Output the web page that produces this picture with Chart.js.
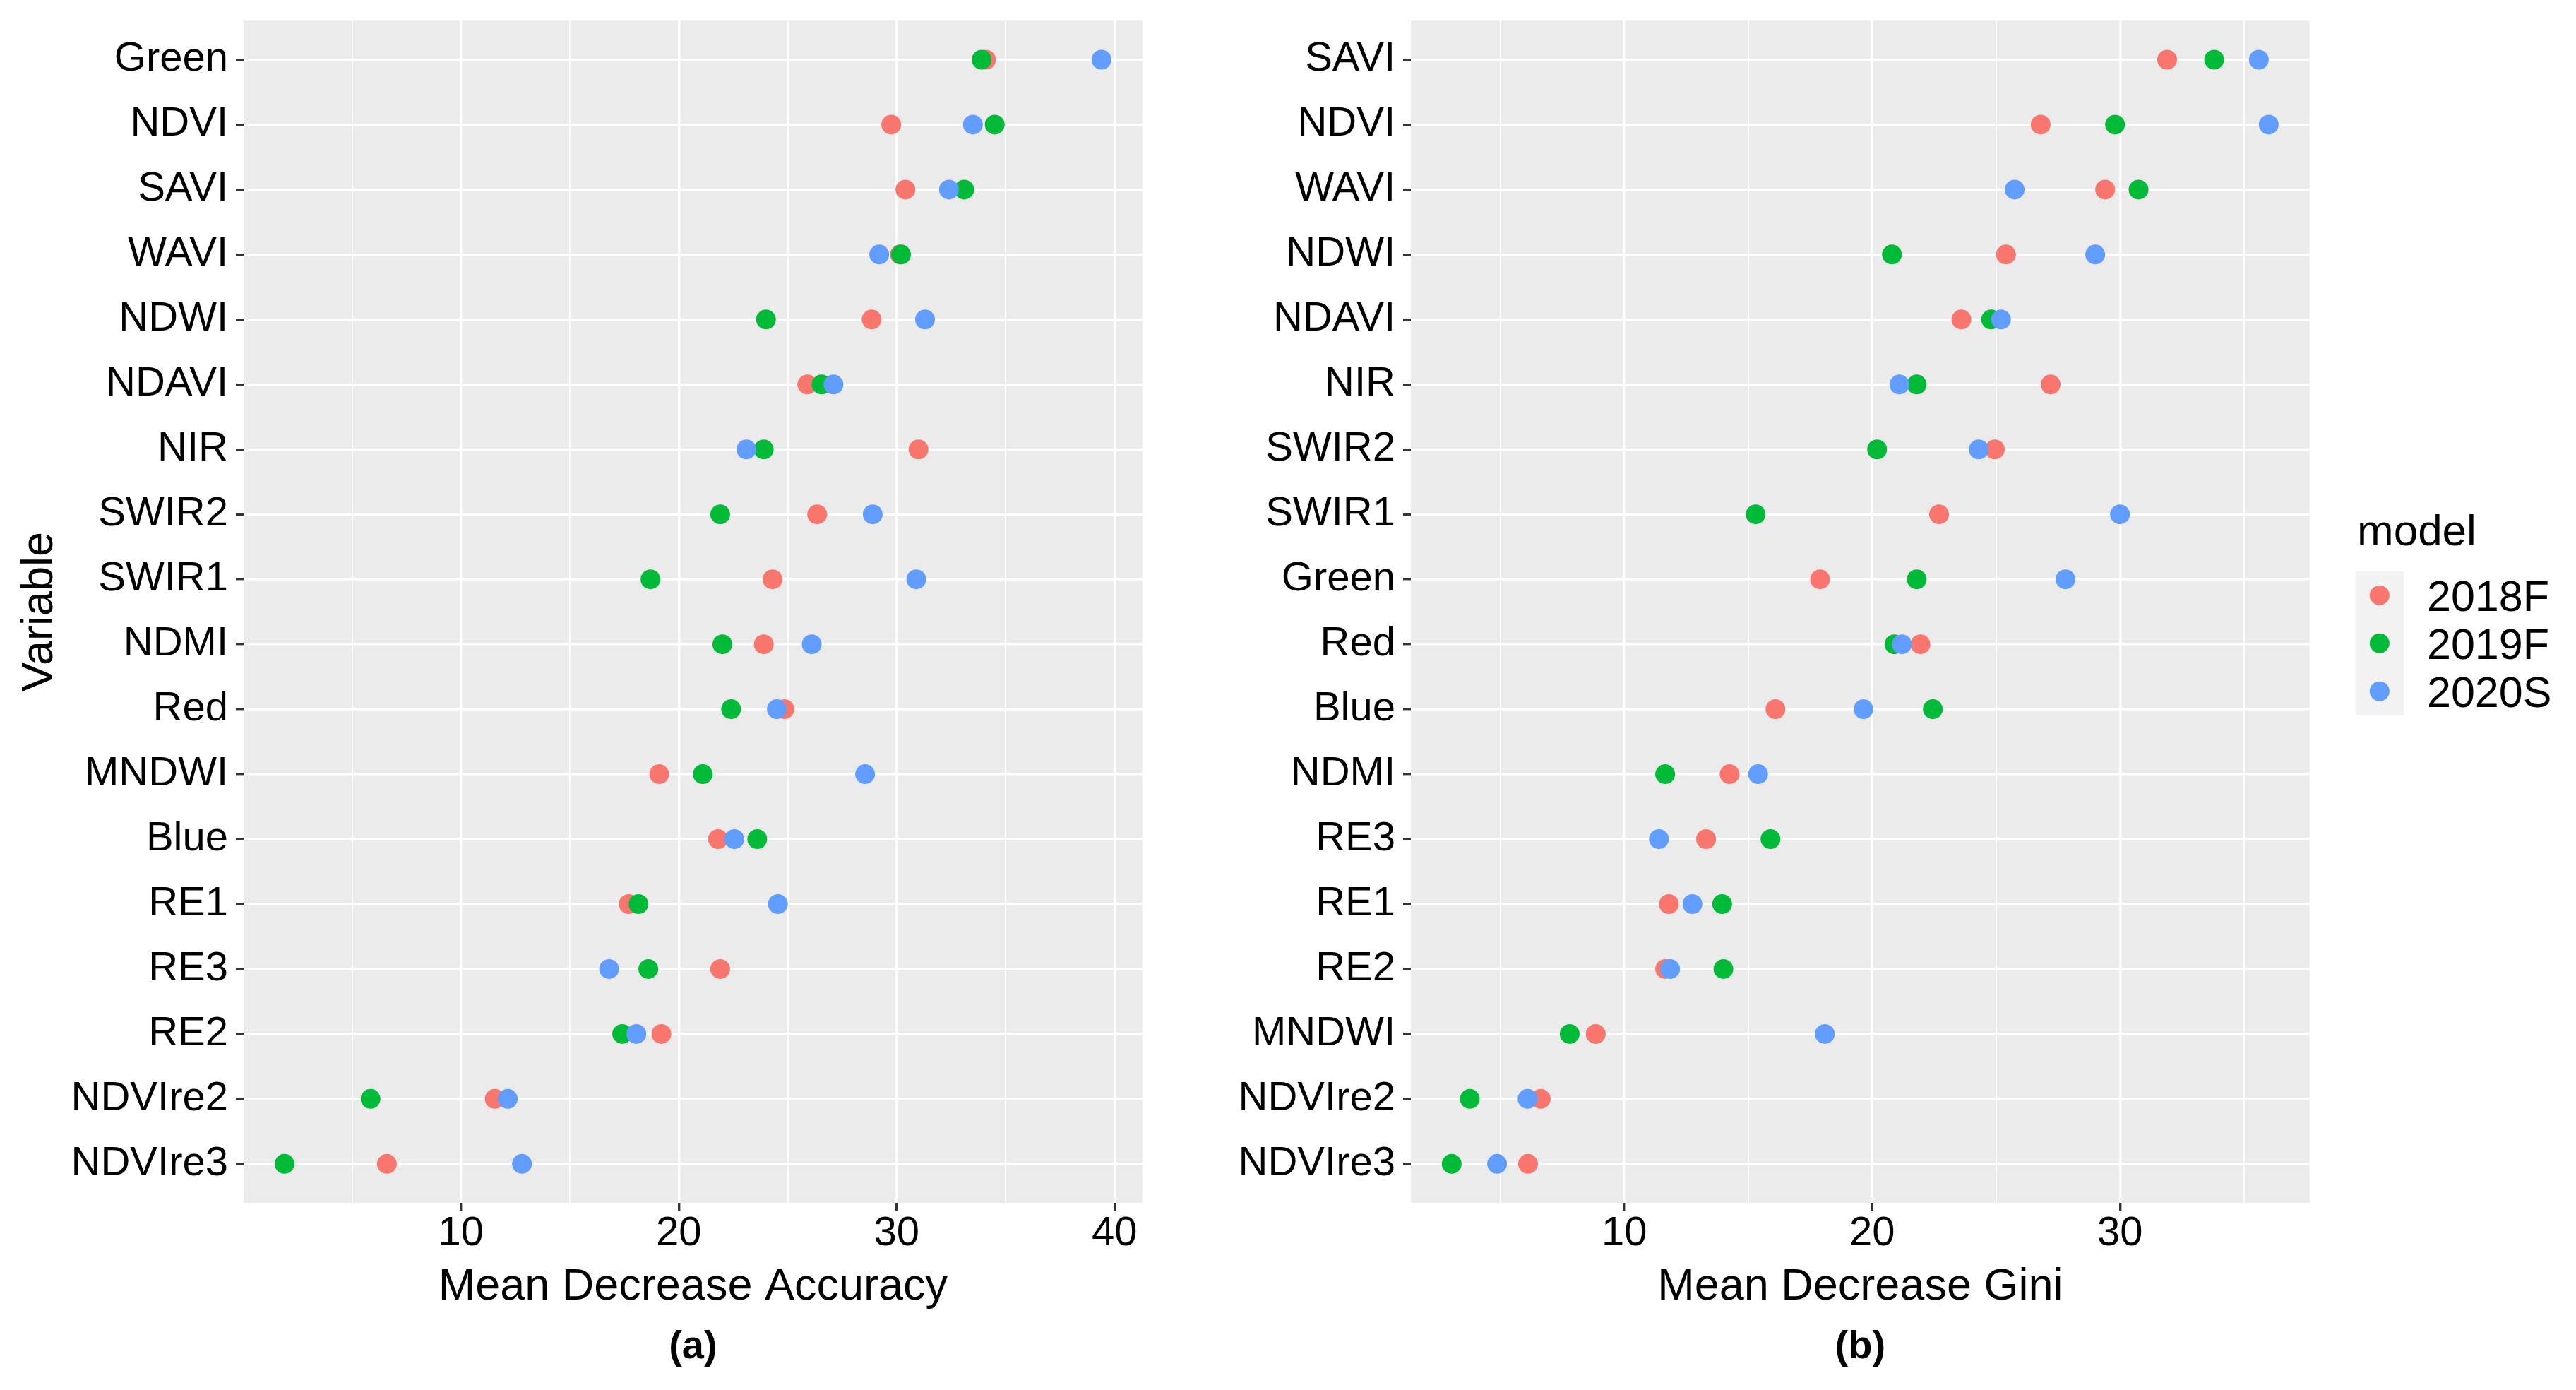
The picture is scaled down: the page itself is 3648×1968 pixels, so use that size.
<!DOCTYPE html>
<html>
<head>
<meta charset="utf-8">
<script src="https://cdn.jsdelivr.net/npm/chart.js@4.4.1/dist/chart.umd.min.js"></script>
<style>
html,body{margin:0;padding:0;background:#fff;width:3648px;height:1968px;overflow:hidden}
canvas{position:absolute;top:0}
#ca{left:0}
#cb{left:1700px}
</style>
</head>
<body>
<canvas id="ca" width="1700" height="1968"></canvas>
<canvas id="cb" width="1948" height="1968"></canvas>
<script>
// ---------------- data ----------------
const models = ['2018F', '2019F', '2020S'];
const modelColors = ['#F8766D', '#00BA38', '#619CFF'];

// (a) Mean Decrease Accuracy
const varsA = ['Green','NDVI','SAVI','WAVI','NDWI','NDAVI','NIR','SWIR2','SWIR1','NDMI','Red','MNDWI','Blue','RE1','RE3','RE2','NDVIre2','NDVIre3'];
const mdaA_2018F = [34.1, 29.75, 30.4, 30.15, 28.85, 25.9, 31.0, 26.35, 24.3, 23.9, 24.85, 19.1, 21.8, 17.7, 21.9, 19.2, 11.55, 6.6];
const mdaA_2019F = [33.9, 34.5, 33.1, 30.2, 24.0, 26.55, 23.9, 21.9, 18.7, 22.0, 22.4, 21.1, 23.6, 18.15, 18.6, 17.4, 5.85, 1.9];
const mdaA_2020S = [39.4, 33.5, 32.4, 29.2, 31.3, 27.1, 23.1, 28.9, 30.9, 26.1, 24.5, 28.55, 22.55, 24.55, 16.8, 18.05, 12.15, 12.8];
const xGridA = [5, 10, 15, 20, 25, 30, 35, 40];
const xLabelsA = [10, 20, 30, 40];

// (b) Mean Decrease Gini
const varsB = ['SAVI','NDVI','WAVI','NDWI','NDAVI','NIR','SWIR2','SWIR1','Green','Red','Blue','NDMI','RE3','RE1','RE2','MNDWI','NDVIre2','NDVIre3'];
const mdgB_2018F = [31.9, 26.8, 29.4, 25.4, 23.6, 27.2, 24.95, 22.7, 17.9, 21.95, 16.1, 14.25, 13.3, 11.8, 11.65, 8.85, 6.63, 6.12];
const mdgB_2019F = [33.8, 29.8, 30.75, 20.8, 24.8, 21.8, 20.2, 15.3, 21.8, 20.9, 22.45, 11.65, 15.9, 13.95, 14.0, 7.8, 3.77, 3.04];
const mdgB_2020S = [35.6, 36.0, 25.75, 29.0, 25.2, 21.1, 24.3, 30.0, 27.8, 21.2, 19.65, 15.4, 11.4, 12.75, 11.85, 18.09, 6.10, 4.87];
const xGridB = [5, 10, 15, 20, 25, 30, 35];
const xLabelsB = [10, 20, 30];

// ---------------- styling ----------------
const FONT = "'Liberation Sans', Arial, Helvetica, sans-serif";
const PANEL_BG = '#EBEBEB';
const TICK_COL = '#333333';

const panelBg = {
  id: 'panelBg',
  beforeDraw(chart) {
    const a = chart.chartArea, ctx = chart.ctx;
    ctx.save();
    ctx.fillStyle = PANEL_BG;
    ctx.fillRect(a.left, a.top, a.right - a.left, a.bottom - a.top);
    ctx.restore();
  }
};

const panelTag = {
  id: 'panelTag',
  afterDraw(chart, args, opts) {
    if (!opts || !opts.text) return;
    const a = chart.chartArea, ctx = chart.ctx;
    ctx.save();
    ctx.fillStyle = '#000';
    ctx.font = 'bold 56px ' + FONT;
    ctx.textAlign = 'center';
    ctx.textBaseline = 'alphabetic';
    ctx.fillText(opts.text, (a.left + a.right) / 2, opts.y);
    ctx.restore();
  }
};

const keyLegend = {
  id: 'keyLegend',
  afterDraw(chart, args, opts) {
    if (!opts || !opts.show) return;
    const ctx = chart.ctx;
    ctx.save();
    ctx.fillStyle = '#000';
    ctx.font = '62px ' + FONT;
    ctx.textAlign = 'left';
    ctx.textBaseline = 'alphabetic';
    ctx.fillText(opts.title, opts.titleX, opts.titleY);
    const n = chart.data.datasets.length;
    ctx.fillStyle = '#F2F2F2';
    ctx.fillRect(opts.keyX, opts.keyY, opts.keyW, opts.keyH * n);
    chart.data.datasets.forEach((ds, i) => {
      const cy = opts.keyY + opts.keyH * (i + 0.5);
      ctx.fillStyle = ds.backgroundColor;
      ctx.beginPath();
      ctx.arc(opts.keyX + opts.keyW / 2, cy, 14, 0, Math.PI * 2);
      ctx.fill();
      ctx.fillStyle = '#000';
      ctx.font = '61px ' + FONT;
      ctx.fillText(ds.label, opts.labelX, cy + 22.5);
    });
    ctx.restore();
  }
};

function makeChart(id, cats, series, xGrid, xLabels, cfg) {
  let lo = Infinity, hi = -Infinity;
  series.forEach(s => s.forEach(v => { lo = Math.min(lo, v); hi = Math.max(hi, v); }));
  const pad = (hi - lo) * 0.05;
  const datasets = models.map((m, i) => ({
    label: m,
    data: series[i].map((v, j) => ({x: v, y: j})),
    backgroundColor: modelColors[i],
    borderWidth: 0,
    pointRadius: 14,
    pointHoverRadius: 14,
    order: models.length - i
  }));
  return new Chart(document.getElementById(id), {
    type: 'scatter',
    data: {datasets},
    plugins: [panelBg, panelTag, keyLegend],
    options: {
      responsive: false,
      animation: false,
      devicePixelRatio: 1,
      events: [],
      layout: {padding: cfg.padding},
      plugins: {
        legend: {display: false},
        tooltip: {enabled: false},
        panelTag: {text: cfg.tag, y: 1923},
        keyLegend: cfg.legend || {show: false}
      },
      scales: {
        x: {
          type: 'linear',
          min: lo - pad,
          max: hi + pad,
          afterBuildTicks: s => { s.ticks = xGrid.map(v => ({value: v})); },
          afterFit: s => { s.height = 265; s.paddingLeft = 0; s.paddingRight = 0; },
          ticks: {
            autoSkip: false,
            maxRotation: 0,
            padding: 4,
            color: '#000',
            font: {family: FONT, size: 58, lineHeight: 1},
            callback: v => xLabels.includes(v) ? String(v) : ''
          },
          grid: {
            color: '#FFFFFF',
            lineWidth: c => (c.tick && xLabels.includes(c.tick.value)) ? 3.4 : 1.7,
            tickColor: c => (c.tick && xLabels.includes(c.tick.value)) ? TICK_COL : 'rgba(0,0,0,0)',
            tickLength: 11,
            tickWidth: 3.4,
            drawTicks: true
          },
          border: {display: false},
          title: {
            display: true,
            text: cfg.xTitle,
            color: '#000',
            font: {family: FONT, size: 63, lineHeight: 1},
            padding: {top: 0, bottom: 114}
          }
        },
        y: {
          type: 'linear',
          reverse: true,
          min: -0.6,
          max: cats.length - 1 + 0.6,
          afterBuildTicks: s => { s.ticks = cats.map((c, i) => ({value: i})); },
          afterFit: s => { s.width = cfg.yWidth; s.paddingTop = 0; s.paddingBottom = 0; },
          ticks: {
            autoSkip: false,
            padding: 11,
            color: '#000',
            font: {family: FONT, size: 58, lineHeight: 1},
            callback: v => cats[v]
          },
          grid: {
            color: '#FFFFFF',
            lineWidth: 3.4,
            tickColor: TICK_COL,
            tickLength: 11,
            tickWidth: 3.4,
            drawTicks: true
          },
          border: {display: false},
          title: cfg.yTitle ? {
            display: true,
            text: cfg.yTitle,
            color: '#000',
            font: {family: FONT, size: 63, lineHeight: 1},
            padding: {top: 24.7, bottom: 0}
          } : {display: false}
        }
      }
    }
  });
}

makeChart('ca', varsA, [mdaA_2018F, mdaA_2019F, mdaA_2020S], xGridA, xLabelsA, {
  padding: {left: 0, top: 29.3, right: 82.3, bottom: 0},
  yWidth: 345,
  xTitle: 'Mean Decrease Accuracy',
  yTitle: 'Variable',
  tag: '(a)'
});

makeChart('cb', varsB, [mdgB_2018F, mdgB_2019F, mdgB_2020S], xGridB, xLabelsB, {
  padding: {left: 0, top: 29.3, right: 377.3, bottom: 0},
  yWidth: 298,
  xTitle: 'Mean Decrease Gini',
  yTitle: null,
  tag: '(b)',
  legend: {show: true, title: 'model', titleX: 1638, titleY: 771.7,
           keyX: 1635.7, keyY: 809, keyW: 68.3, keyH: 67.9, labelX: 1737}
});
</script>
</body>
</html>
